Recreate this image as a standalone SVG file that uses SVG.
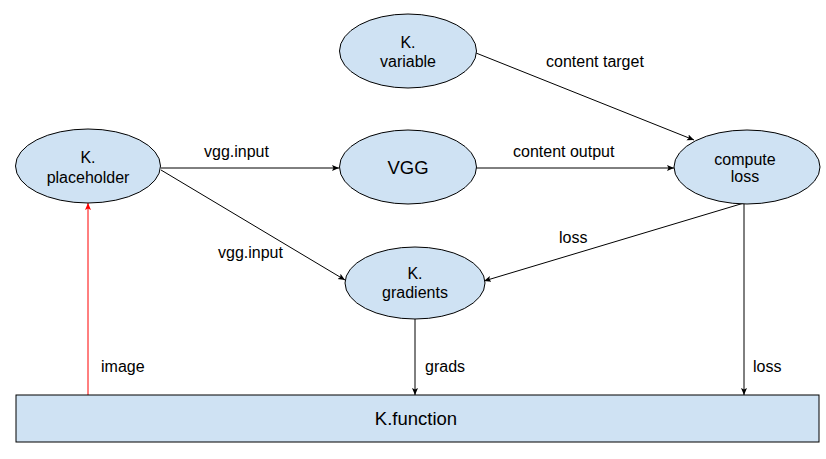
<svg xmlns="http://www.w3.org/2000/svg" width="826" height="459" viewBox="0 0 826 459">
<style>
.node{fill:#cfe2f3;stroke:#000;stroke-width:1}
.t{font-family:"Liberation Sans",Arial,sans-serif;font-size:16px;fill:#000;text-anchor:middle}
.lbl{font-family:"Liberation Sans",Arial,sans-serif;font-size:16px;fill:#000}
.big{font-size:18.5px}
.edge{fill:none;stroke:#000;stroke-width:1}
.red{fill:none;stroke:#ff0000;stroke-width:1}
</style>
<defs>
<marker id="ah" markerUnits="userSpaceOnUse" markerWidth="8" markerHeight="8" viewBox="0 0 8 8" refX="7" refY="4" orient="auto">
<path d="M0,1 L7,4 L0,7 L1.5,4 z" fill="#000"/>
</marker>
<marker id="ahr" markerUnits="userSpaceOnUse" markerWidth="8" markerHeight="8" viewBox="0 0 8 8" refX="7" refY="4" orient="auto">
<path d="M0,1 L7,4 L0,7 L1.5,4 z" fill="#ff0000"/>
</marker>
</defs>
<rect width="826" height="459" fill="#fff"/>
<g id="connectors">
<line class="edge" x1="161" y1="168" x2="339" y2="168" marker-end="url(#ah)"/>
<line class="edge" x1="161" y1="170" x2="345" y2="280" marker-end="url(#ah)"/>
<line class="edge" x1="476" y1="168" x2="674" y2="168" marker-end="url(#ah)"/>
<line class="edge" x1="476" y1="53" x2="694" y2="140" marker-end="url(#ah)"/>
<line class="edge" x1="744" y1="203" x2="484" y2="281" marker-end="url(#ah)"/>
<line class="edge" x1="744" y1="203" x2="744" y2="395" marker-end="url(#ah)"/>
<line class="edge" x1="415" y1="319" x2="415" y2="395" marker-end="url(#ah)"/>
<line class="red" x1="88" y1="395" x2="88" y2="203" marker-end="url(#ahr)"/>
<text class="lbl" x="204" y="157">vgg.input</text>
<text class="lbl" x="218" y="258">vgg.input</text>
<text class="lbl" x="513" y="157">content output</text>
<text class="lbl" x="546" y="67">content target</text>
<text class="lbl" x="559" y="243">loss</text>
<text class="lbl" x="425" y="372">grads</text>
<text class="lbl" x="753" y="372">loss</text>
<text class="lbl" x="101" y="372">image</text>
</g>
<g id="placeholder">
<ellipse class="node" cx="88" cy="166" rx="72.5" ry="37"/>
<text class="t" x="88" y="163">K.</text>
<text class="t" x="88" y="183">placeholder</text>
</g>
<g id="variable">
<ellipse class="node" cx="408" cy="51" rx="68.5" ry="37"/>
<text class="t" x="408" y="48">K.</text>
<text class="t" x="408" y="67">variable</text>
</g>
<g id="vgg">
<ellipse class="node" cx="408" cy="167" rx="68.5" ry="37"/>
<text class="t big" x="408" y="174">VGG</text>
</g>
<g id="computeloss">
<ellipse class="node" cx="747" cy="167" rx="73" ry="37"/>
<text class="t" x="745" y="165">compute</text>
<text class="t" x="745" y="182">loss</text>
</g>
<g id="gradients">
<ellipse class="node" cx="415" cy="283" rx="70" ry="36"/>
<text class="t" x="415" y="279">K.</text>
<text class="t" x="415" y="298">gradients</text>
</g>
<g id="kfunction">
<rect class="node" x="16" y="395" width="803" height="47"/>
<text class="t big" x="416" y="425">K.function</text>
</g>
</svg>
